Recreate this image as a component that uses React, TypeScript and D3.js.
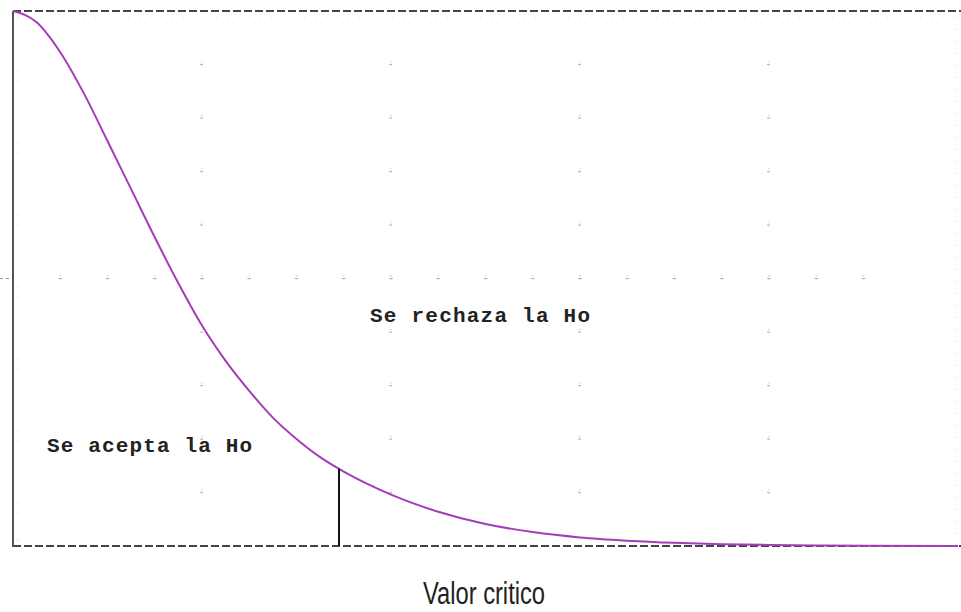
import React from "react";
import * as d3 from "d3";

// Curve values (x in arbitrary units 0..10, y density 0..1)
const curveX = [0, 0.25, 0.5, 0.75, 1, 1.25, 1.5, 1.75, 2, 2.25, 2.5, 2.75, 3, 3.25, 3.5, 3.75, 4, 4.5, 5, 5.5, 6, 6.5, 7, 7.5, 8, 8.5, 9, 10];
const curveY = [1.0, 0.979, 0.923, 0.846, 0.757, 0.667, 0.577, 0.491, 0.412, 0.346, 0.29, 0.24, 0.2, 0.166, 0.139, 0.116, 0.096, 0.064, 0.041, 0.026, 0.016, 0.01, 0.006, 0.0035, 0.002, 0.001, 0.0003, 0.0];

const criticalX = 3.45;

const gridCols = [2, 4, 6, 8];
const gridColMarks = [0.1, 0.2, 0.3, 0.4, 0.5, 0.6, 0.7, 0.8, 0.9];
const gridRow = 0.5;
const gridRowMarks = [0.5, 1, 1.5, 2, 2.5, 3, 3.5, 4, 4.5, 5, 5.5, 6, 6.5, 7, 7.5, 8, 8.5, 9];

const labelReject = "Se rechaza la Ho";
const labelAccept = "Se acepta la Ho";
const labelCritical = "Valor critico";

const W = 961;
const H = 612;
const left = 13;
const right = 958;
const top = 11;
const bottom = 546;

export default function App() {
  const x = d3.scaleLinear().domain([0, 10]).range([left, right]);
  const y = d3.scaleLinear().domain([0, 1]).range([bottom, top]);

  const pts: [number, number][] = curveX.map((v, i) => [v, curveY[i]]);
  const line = d3
    .line<[number, number]>()
    .x((d) => x(d[0]))
    .y((d) => y(d[1]))
    .curve(d3.curveMonotoneX);

  // height of curve at the critical value, taken from the curve data
  const critY = d3.scaleLinear().domain(curveX).range(curveY)(criticalX);

  const markColor = "#b8b8b8";

  return (
    <svg
      width={W}
      height={H}
      style={{ position: "absolute", left: 0, top: 0, background: "#fff" }}
    >
      <rect x={0} y={0} width={W} height={H} fill="#fff" />
      {/* faint dotted frame inside */}
      <line x1={left + 5} x2={left + 5} y1={top + 6} y2={bottom - 6} stroke="#dcdcdc" strokeWidth={1} strokeDasharray="1 8" />
      <line x1={left + 5} x2={right} y1={top + 6} y2={top + 6} stroke="#dcdcdc" strokeWidth={1} strokeDasharray="1 10" />
      <line x1={right - 1} x2={right - 1} y1={top + 6} y2={bottom - 4} stroke="#cfcfcf" strokeWidth={1} strokeDasharray="1 11" />
      <line x1={left + 5} x2={right} y1={bottom - 6} y2={bottom - 6} stroke="#e6e6e6" strokeWidth={1} strokeDasharray="1 10" />

      {/* grid marks */}
      {gridCols.map((c) =>
        gridColMarks.map((r) => (
          <g key={`c${c}-${r}`}>
            <line x1={x(c)} x2={x(c)} y1={y(r) - 3} y2={y(r) + 3} stroke={markColor} strokeWidth={1} strokeDasharray="1 2" />
            <line x1={x(c) - 2} x2={x(c) + 1} y1={y(r)} y2={y(r)} stroke={markColor} strokeWidth={1} />
          </g>
        ))
      )}
      {gridRowMarks.map((c) => (
        <g key={`r${c}`}>
          <line x1={x(c) - 2} x2={x(c) + 2} y1={y(gridRow)} y2={y(gridRow)} stroke={markColor} strokeWidth={1} />
          <line x1={x(c)} x2={x(c)} y1={y(gridRow) - 3} y2={y(gridRow) + 3} stroke={markColor} strokeWidth={1} strokeDasharray="1 2" />
        </g>
      ))}
      <line x1={0} x2={left} y1={y(gridRow)} y2={y(gridRow)} stroke="#999" strokeWidth={1} strokeDasharray="3 3" />

      {/* frame */}
      <line x1={left} x2={right + 3} y1={top} y2={top} stroke="#444" strokeWidth={2} strokeDasharray="8 3" />
      <line x1={left} x2={right + 3} y1={bottom} y2={bottom} stroke="#444" strokeWidth={2} strokeDasharray="8 3" />
      <line x1={left} x2={left} y1={top} y2={bottom + 1} stroke="#555" strokeWidth={2} />

      {/* curve */}
      <path d={line(pts) || ""} fill="none" stroke="#a43db8" strokeWidth={2} />

      {/* critical value */}
      <line x1={x(criticalX)} x2={x(criticalX)} y1={y(0)} y2={y(critY)} stroke="#111" strokeWidth={2} />

      {/* labels */}
      <text
        x={370}
        y={322}
        fontFamily="'Liberation Mono', monospace"
        fontWeight="bold"
        fontSize={21}
        fill="#222"
        textLength={220}
        lengthAdjust="spacing"
      >
        {labelReject}
      </text>
      <text
        x={47}
        y={452}
        fontFamily="'Liberation Mono', monospace"
        fontWeight="bold"
        fontSize={21}
        fill="#222"
        textLength={205}
        lengthAdjust="spacing"
      >
        {labelAccept}
      </text>
      <text
        x={423}
        y={604}
        fontFamily="'Liberation Sans Narrow', 'Liberation Sans', Arial, sans-serif"
        fontSize={31}
        fill="#222"
        textLength={122}
        lengthAdjust="spacingAndGlyphs"
      >
        {labelCritical}
      </text>
    </svg>
  );
}
